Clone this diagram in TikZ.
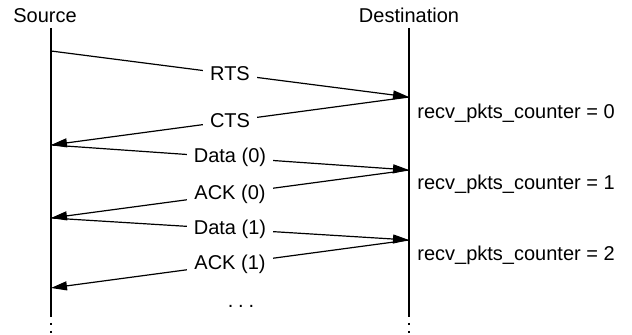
\documentclass[tikz,border=0pt]{standalone}
\usepackage{fontspec}
\setmainfont{Liberation Sans}
\usetikzlibrary{arrows.meta, positioning}

\begin{document}
\begin{tikzpicture}[
  x=0.5pt, y=-0.5pt,
  font=\fontsize{10}{12}\selectfont,
  life/.style={line width=0.6pt},
  lifeend/.style={line width=0.6pt, dash pattern=on 1pt off 3pt},
  msg/.style={line width=0.6pt, -{Triangle[length=8pt, width=4.5pt]}},
  lbl/.style={fill=white, inner sep=3.5pt, midway},
  cnt/.style={anchor=west, inner sep=0pt},
]
\useasboundingbox (0,0) rectangle (632,335);

% hosts
\node (src) at (45,16) {Source};
\node (dst) at (409,15) {Destination};

% lifelines
\coordinate (stop) at (51,28);
\coordinate (sbot) at (51,315);
\coordinate (send) at (51,335);
\coordinate (dtop) at (409,28);
\coordinate (dbot) at (409,315);
\coordinate (dend) at (409,335);
\draw[life] (stop) -- (sbot);
\draw[lifeend] (sbot) -- (send);
\draw[life] (dtop) -- (dbot);
\draw[lifeend] (dbot) -- (dend);

% message points
\coordinate (s1) at (51,51);
\coordinate (d1) at (409,97);
\coordinate (s2) at (51,145);
\coordinate (d2) at (409,170);
\coordinate (s3) at (51,218);
\coordinate (d3) at (409,240);
\coordinate (s4) at (51,288);

% messages
\draw[msg] (s1) -- node[lbl] (rts)  {RTS}      (d1);
\draw[msg] (d1) -- node[lbl] (cts)  {CTS}      (s2);
\draw[msg] (s2) -- node[lbl] (data0) {Data (0)} (d2);
\draw[msg] (d2) -- node[lbl] (ack0) {ACK (0)}  (s3);
\draw[msg] (s3) -- node[lbl] (data1) {Data (1)} (d3);
\draw[msg] (d3) -- node[lbl] (ack1) {ACK (1)}  (s4);
\node[anchor=base, inner sep=0pt] (more) at (241,308) {.\kern2.4pt.\kern2.4pt.};

% receiver counter
\node[cnt] (cnt0) at (417,113) {recv\_pkts\_counter = 0};
\node[cnt] (cnt1) at (417,184) {recv\_pkts\_counter = 1};
\node[cnt] (cnt2) at (417,255) {recv\_pkts\_counter = 2};
\end{tikzpicture}
\end{document}
